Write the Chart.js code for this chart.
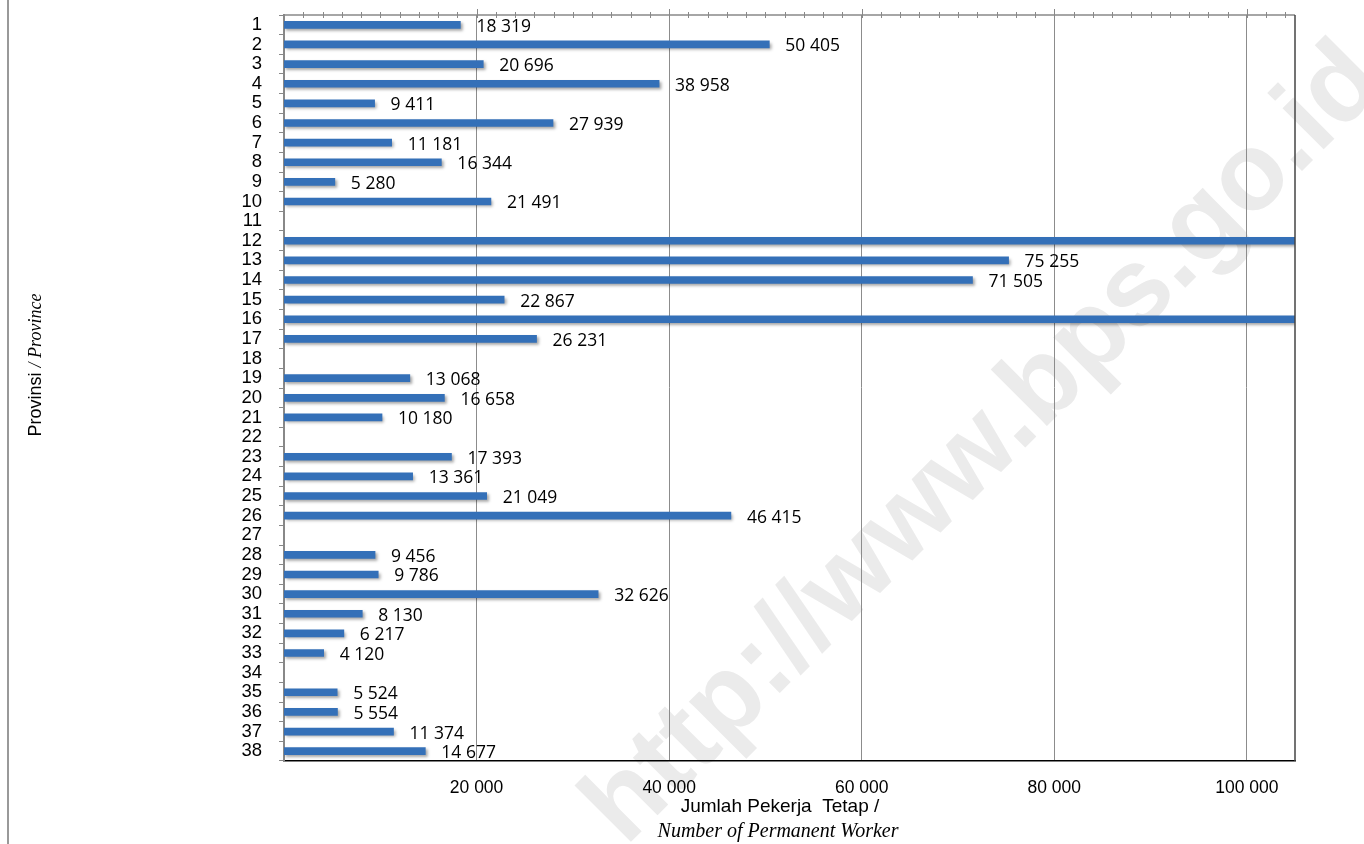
<!DOCTYPE html>
<html>
<head>
<meta charset="utf-8">
<script src="https://cdn.jsdelivr.net/npm/chart.js@4"></script>
<style>
  html, body { margin: 0; padding: 0; background: #fff; }
  #wrap { width: 1364px; height: 844px; position: relative; }
</style>
</head>
<body>
<div id="wrap"><canvas id="chart"></canvas></div>
<script>
// provinsi 1..38
const provinsi = ['1','2','3','4','5','6','7','8','9','10','11','12','13','14','15','16','17','18','19',
    '20','21','22','23','24','25','26','27','28','29','30','31','32','33','34','35','36','37','38'];

// jumlah pekerja tetap (12 dan 16 melewati batas sumbu, nilainya tidak tertera)
const pekerja = [18319, 50405, 20696, 38958, 9411, 27939, 11181, 16344, 5280, 21491, null,
    125000, 75255, 71505, 22867, 115000, 26231, null, 13068, 16658, 10180, null,
    17393, 13361, 21049, 46415, null, 9456, 9786, 32626, 8130, 6217, 4120, null,
    5524, 5554, 11374, 14677];

const xMax = 105000;
const xTicks = [20000, 40000, 60000, 80000, 100000];

const fmt = v => String(v).replace(/\B(?=(\d{3})+(?!\d))/g, ' ');

const hiasan = {
    id: 'hiasan',
    beforeDraw(chart) {
        const ctx = chart.ctx;
        ctx.save();
        ctx.fillStyle = '#fff';
        ctx.fillRect(0, 0, chart.width, chart.height);
        // garis tepi kiri
        ctx.strokeStyle = '#999';
        ctx.lineWidth = 2;
        ctx.beginPath();
        ctx.moveTo(8, 0);
        ctx.lineTo(8, chart.height);
        ctx.stroke();
        // watermark
        ctx.translate(985, 445);
        ctx.rotate(-Math.PI / 4);
        ctx.fillStyle = '#ebebeb';
        ctx.font = 'bold 110px "Liberation Sans"';
        ctx.textAlign = 'center';
        ctx.textBaseline = 'middle';
        ctx.fillText('http://www.bps.go.id', 0, 0);
        ctx.restore();
    },
    beforeDatasetsDraw(chart) {
        const ctx = chart.ctx;
        ctx.save();
        ctx.shadowColor = 'rgba(0,0,0,0.35)';
        ctx.shadowOffsetX = 2;
        ctx.shadowOffsetY = 2;
        ctx.shadowBlur = 3;
    },
    afterDatasetsDraw(chart) {
        const ctx = chart.ctx;
        ctx.restore();
        const area = chart.chartArea;
        const xs = chart.scales.x;

        // label nilai
        const meta = chart.getDatasetMeta(0);
        ctx.save();
        ctx.fillStyle = '#000';
        ctx.font = '17.5px "Open Sans"';
        ctx.textBaseline = 'middle';
        ctx.textAlign = 'left';
        meta.data.forEach((bar, i) => {
            const v = pekerja[i];
            if (v == null || v > xMax) return;
            ctx.fillText(fmt(v), bar.x + 16, bar.y + 2);
        });

        // sumbu atas dengan tick kecil
        ctx.strokeStyle = '#888';
        ctx.lineWidth = 1.5;
        ctx.beginPath();
        ctx.moveTo(area.left, area.top);
        ctx.lineTo(area.right, area.top);
        ctx.stroke();
        ctx.lineWidth = 1;
        ctx.beginPath();
        for (let v = 2000; v < xMax; v += 2000) {
            const x = Math.round(xs.getPixelForValue(v)) + 0.5;
            const up = v % 20000 === 0 ? 6 : 3;
            ctx.moveTo(x, area.top - up);
            ctx.lineTo(x, area.top + 3);
        }
        ctx.stroke();

        // garis tepi kanan
        ctx.strokeStyle = '#444';
        ctx.lineWidth = 1.5;
        ctx.beginPath();
        ctx.moveTo(area.right, area.top);
        ctx.lineTo(area.right, area.bottom);
        ctx.stroke();

        // judul sumbu x
        ctx.fillStyle = '#000';
        ctx.textAlign = 'center';
        ctx.font = '19px "Liberation Sans"';
        ctx.fillText('Jumlah Pekerja  Tetap /', 780, 807);
        ctx.font = 'italic 20px "Liberation Serif"';
        ctx.fillText('Number of Permanent Worker', 778, 832);

        // judul sumbu y
        ctx.translate(36, 365);
        ctx.rotate(-Math.PI / 2);
        ctx.textAlign = 'left';
        const a = 'Provinsi ';
        const b = '/ Province';
        ctx.font = '18px "Liberation Sans"';
        const wa = ctx.measureText(a).width;
        ctx.font = 'italic 18px "Liberation Serif"';
        const wb = ctx.measureText(b).width;
        const x0 = -(wa + wb) / 2;
        ctx.font = '18px "Liberation Sans"';
        ctx.fillText(a, x0, 0);
        ctx.font = 'italic 18px "Liberation Serif"';
        ctx.fillText(b, x0 + wa, 0);
        ctx.restore();
    }
};

new Chart(document.getElementById('chart'), {
    type: 'bar',
    data: {
        labels: provinsi,
        datasets: [{
            data: pekerja,
            backgroundColor: '#3470b8',
            barThickness: 7
        }]
    },
    options: {
        indexAxis: 'y',
        responsive: true,
        maintainAspectRatio: false,
        animation: false,
        layout: { padding: { top: 15, right: 69, left: 0, bottom: 0 } },
        plugins: {
            legend: { display: false },
            tooltip: { enabled: false }
        },
        scales: {
            x: {
                min: 0,
                max: xMax,
                afterBuildTicks: s => { s.ticks = xTicks.map(v => ({ value: v })); },
                afterFit: s => {
                    s.height = 83;
                    s.paddingLeft = 0;
                    s.paddingRight = 0;
                },
                ticks: {
                    color: '#000',
                    font: { family: 'Liberation Sans', size: 17.5 },
                    padding: 17,
                    maxRotation: 0,
                    callback: v => fmt(v)
                },
                grid: { color: '#8c8c8c', drawTicks: false },
                border: { color: '#000', width: 1.5 }
            },
            y: {
                afterFit: s => {
                    s.width = 284;
                    s.paddingTop = 0;
                    s.paddingBottom = 0;
                },
                ticks: {
                    color: '#000',
                    autoSkip: false,
                    font: { family: 'Liberation Sans', size: 18.5 },
                    padding: 17
                },
                grid: { drawOnChartArea: false, tickLength: 5, color: '#888' },
                border: { color: '#888', width: 2 }
            }
        }
    },
    plugins: [hiasan]
});
</script>
</body>
</html>
